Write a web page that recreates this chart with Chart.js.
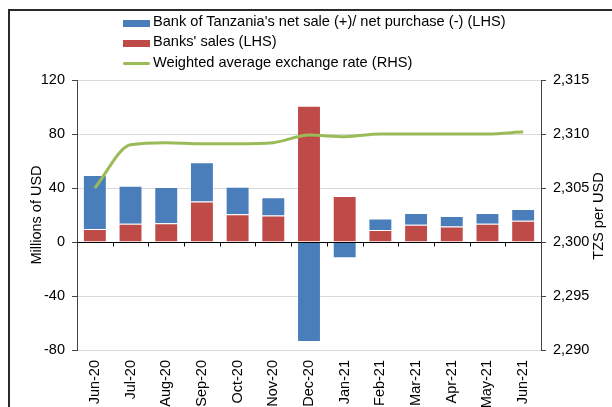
<!DOCTYPE html>
<html>
<head>
<meta charset="utf-8">
<script src="https://cdn.jsdelivr.net/npm/chart.js@4.4.1/dist/chart.umd.min.js"></script>
<style>
  html, body { margin: 0; padding: 0; background: #fff; }
  #wrap { position: relative; width: 612px; height: 407px; overflow: hidden; font-family: "Liberation Sans", Arial, sans-serif; }
  #frame { position: absolute; left: 8px; top: 9px; width: 700px; height: 500px; border-top: 2px solid #2a2a2a; border-left: 2px solid #2a2a2a; box-sizing: border-box; pointer-events: none; }
  #legend { position: absolute; left: 123px; top: 13px; }
  .item { position: relative; height: 20.4px; font-size: 14.6px; color: #000; white-space: nowrap; }
  .sw { position: absolute; left: 0; width: 27px; }
  .txt { position: absolute; left: 30px; top: 0px; line-height: 17px; }
  #rtitle { position: absolute; left: 598px; top: 216px; transform: translate(-50%, -50%) rotate(-90deg); font-size: 14.6px; color: #000; white-space: nowrap; line-height: 17px; }
  canvas { position: absolute; left: 0; top: 0; }
</style>
</head>
<body>
<div id="wrap">
  <canvas id="c" width="612" height="407"></canvas>
  <div id="frame"></div>
  <div id="legend"></div>
  <div id="rtitle"></div>
</div>
<script>
const categories = ["Jun-20","Jul-20","Aug-20","Sep-20","Oct-20","Nov-20","Dec-20","Jan-21","Feb-21","Mar-21","Apr-21","May-21","Jun-21"];
const bankOfTanzaniaNet = [40, 28, 27, 29, 20.5, 13.5, -74, -12, 8.6, 8.7, 7.9, 7.9, 8.6];
const banksSales = [9.6, 13.6, 13.8, 30, 20.5, 19.7, 101, 34, 8.9, 12.8, 11.4, 13.6, 15.8];
const exchangeRate = [2305.0, 2309.0, 2309.2, 2309.1, 2309.1, 2309.2, 2309.9, 2309.75, 2310.0, 2310.0, 2310.0, 2310.0, 2310.2];
const leftTicks = { min: -80, max: 120, step: 40 };
const rightTicks = { min: 2290, max: 2315, step: 5 };

const labels = {
  bot: "Bank of Tanzania's net sale (+)/ net purchase (-) (LHS)",
  banks: "Banks' sales (LHS)",
  rate: "Weighted average exchange rate (RHS)"
};
const axisTitles = { left: "Millions of USD", right: "TZS per USD" };
const colors = { blue: "#4a7ebb", red: "#be4b48", green: "#9bbb59" };

// HTML legend
const legendItems = [
  { text: labels.bot, color: colors.blue, type: "box" },
  { text: labels.banks, color: colors.red, type: "box" },
  { text: labels.rate, color: colors.green, type: "line" }
];
const lg = document.getElementById("legend");
legendItems.forEach(it => {
  const d = document.createElement("div");
  d.className = "item";
  const s = document.createElement("div");
  s.className = "sw";
  s.style.background = it.color;
  if (it.type === "box") { s.style.top = "6.5px"; s.style.height = "7px"; }
  else { s.style.top = "8.5px"; s.style.height = "3px"; s.style.borderRadius = "1.5px"; }
  const t = document.createElement("div");
  t.className = "txt";
  t.textContent = it.text;
  d.appendChild(s); d.appendChild(t);
  lg.appendChild(d);
});
document.getElementById("rtitle").textContent = axisTitles.right;

const zeroAxisPlugin = {
  id: "zeroAxis",
  afterDatasetsDraw(chart) {
    const { ctx, chartArea, scales } = chart;
    const y0 = Math.round(scales.y.getPixelForValue(0)) + 0.5;
    ctx.save();
    ctx.strokeStyle = "#000";
    ctx.lineWidth = 1;
    ctx.beginPath();
    ctx.moveTo(chartArea.left, y0);
    ctx.lineTo(chartArea.right, y0);
    const xs = scales.x;
    for (let i = 1; i < categories.length; i++) {
      const px = Math.round((xs.getPixelForValue(i - 1) + xs.getPixelForValue(i)) / 2) + 0.5;
      ctx.moveTo(px, y0);
      ctx.lineTo(px, y0 + 4);
    }
    ctx.stroke();
    ctx.restore();
  }
};

const font = { family: "'Liberation Sans', Arial, sans-serif", size: 14.5 };

new Chart(document.getElementById("c"), {
  type: "bar",
  data: {
    labels: categories,
    datasets: [
      {
        type: "line", label: labels.rate, data: exchangeRate, yAxisID: "y2",
        borderColor: colors.green, borderWidth: 3, pointRadius: 0,
        cubicInterpolationMode: "monotone",
        order: 0, fill: false
      },
      {
        label: labels.banks, data: banksSales, backgroundColor: colors.red,
        borderColor: "rgba(255,255,255,0.35)", borderWidth: 1, stack: "s", yAxisID: "y", order: 1,
        barPercentage: 0.67, categoryPercentage: 1
      },
      {
        label: labels.bot, data: bankOfTanzaniaNet, backgroundColor: colors.blue,
        borderColor: "rgba(255,255,255,0.35)", borderWidth: 1, stack: "s", yAxisID: "y", order: 1,
        barPercentage: 0.67, categoryPercentage: 1
      }
    ]
  },
  options: {
    responsive: false,
    animation: false,
    devicePixelRatio: 1,
    layout: { padding: { left: 24, right: 2, top: 80, bottom: 0 } },
    plugins: { legend: { display: false }, tooltip: { enabled: false } },
    scales: {
      x: {
        stacked: true,
        grid: { display: false, drawTicks: false },
        border: { display: false },
        ticks: { font, color: "#000", minRotation: 90, maxRotation: 90, padding: 10, autoSkip: false },
        afterFit(s) { s.height = 57; }
      },
      y: {
        stacked: true, position: "left",
        min: leftTicks.min, max: leftTicks.max,
        ticks: { stepSize: leftTicks.step, font, color: "#000", padding: 7 },
        grid: {
          color: c => (c.tick && c.tick.value === 0) ? "rgba(0,0,0,0)" : "#d9d9d9",
          tickColor: "#444", tickLength: 5
        },
        border: { color: "#444", width: 1 },
        title: { display: true, text: axisTitles.left, font, color: "#000", padding: { top: 4, bottom: 0 } },
        afterFit(s) { s.width = 53; }
      },
      y2: {
        position: "right",
        min: rightTicks.min, max: rightTicks.max,
        ticks: { stepSize: rightTicks.step, font, color: "#000", padding: 7,
          callback: v => v.toLocaleString("en-US") },
        grid: { drawOnChartArea: false, tickColor: "#444", tickLength: 5 },
        border: { color: "#444", width: 1 },
        afterFit(s) { s.width = 69; }
      }
    }
  },
  plugins: [zeroAxisPlugin]
});
</script>
</body>
</html>
